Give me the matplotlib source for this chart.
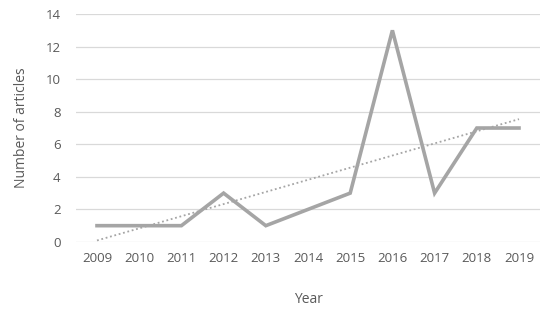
import numpy as np
import matplotlib
matplotlib.use("Agg")
import matplotlib.pyplot as plt

years = ["2009", "2010", "2011", "2012", "2013", "2014", "2015", "2016", "2017", "2018", "2019"]
articles = [1, 1, 1, 3, 1, 2, 3, 13, 3, 7, 7]

plt.rcParams['font.family'] = ['Open Sans', 'DejaVu Sans']
txt = '#595959'

fig = plt.figure(figsize=(5.5, 3.13), dpi=100)
ax = fig.add_axes([0.138, 0.227, 0.844, 0.728])

x = np.arange(len(years))
ax.plot(x, articles, color='#a5a5a5', lw=2.6, solid_joinstyle='miter', zorder=3)

# linear trend line
k, b = np.polyfit(x, articles, 1)
ax.plot(x, k * x + b, color='#a5a5a5', lw=1.3, ls=(0, (1, 1.5)), zorder=4)

ax.set_xlim(-0.5, len(years) - 0.5)
ax.set_ylim(0, 14)
ax.set_yticks(range(0, 15, 2))
ax.set_xticks(x)
ax.set_xticklabels(years)
ax.grid(axis='y', color='#d9d9d9', lw=0.9)
ax.set_axisbelow(True)
for s in ax.spines.values():
    s.set_visible(False)
ax.tick_params(length=0, colors=txt, labelsize=9.5)
ax.tick_params(axis='y', pad=11)
ax.tick_params(axis='x', pad=7)

ax.set_ylabel("Number of articles", color=txt, fontsize=10, labelpad=12)
ax.set_xlabel("Year", color=txt, fontsize=10, labelpad=20)

fig.savefig("out.png", dpi=100)
